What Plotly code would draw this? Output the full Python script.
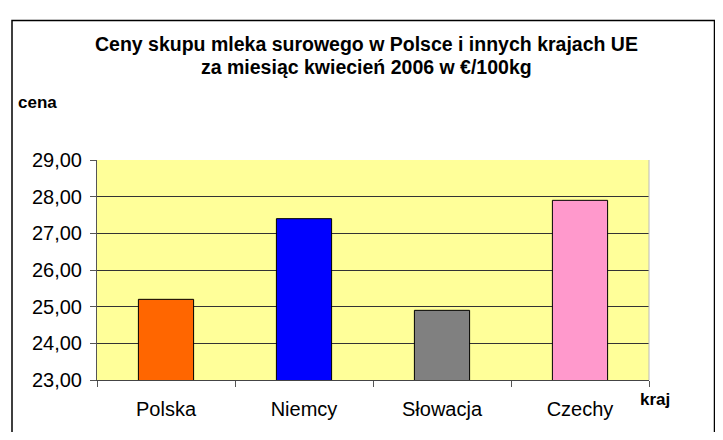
import plotly.graph_objects as go

countries = ["Polska", "Niemcy", "Słowacja", "Czechy"]
prices = [25.2, 27.4, 24.9, 27.9]
bar_colors = ["#FF6600", "#0000FF", "#808080", "#FF99CC"]
y_ticks = [23, 24, 25, 26, 27, 28, 29]

OFF = 8  # default page body margin
W, H = 723 - 2 * OFF, 440 - 2 * OFF
# plot area in page px
L, R, T, B = 97, 649, 160, 395

def px(x):
    return (x - L) / (R - L)

def py(y):
    return (B - y) / (B - T)

fig = go.Figure(go.Bar(
    x=countries, y=prices,
    marker=dict(color=bar_colors, line=dict(color="black", width=1)),
    width=0.4,
))

font = "Liberation Sans, Arial, sans-serif"
fig.update_layout(
    width=W, height=H,
    margin=dict(l=L - OFF, r=W - (R - OFF), t=T - OFF, b=H - (B - OFF), pad=0),
    paper_bgcolor="white",
    plot_bgcolor="#FFFF99",
    separators=", ",
    showlegend=False,
    font=dict(family=font, color="black", size=20),
    xaxis=dict(
        type="category", tickson="boundaries", ticks="outside", ticklen=6,
        tickcolor="#555", showline=True, linecolor="#444", linewidth=1,
        showgrid=False, tickfont=dict(size=20), ticklabelstandoff=11,
    ),
    yaxis=dict(
        range=[23, 29], tickvals=y_ticks, tickformat=".2f",
        ticks="outside", ticklen=6, tickcolor="#555",
        showline=True, linecolor="#555", linewidth=1,
        showgrid=True, gridcolor="#333", gridwidth=1,
        zeroline=False, tickfont=dict(size=20), ticklabelstandoff=4,
    ),
    shapes=[
        dict(type="rect", xref="paper", yref="paper",
             x0=px(12), x1=px(714.5), y0=py(470), y1=py(11),
             line=dict(color="black", width=1.5), fillcolor="rgba(0,0,0,0)",
             layer="above"),
        dict(type="line", xref="paper", yref="paper",
             x0=1, x1=1, y0=0, y1=1, line=dict(color="#bbb", width=1)),
    ],
    annotations=[
        dict(text="<b>Ceny skupu mleka surowego w Polsce i innych krajach UE</b>",
             xref="paper", yref="paper", x=px(366), y=py(36),
             showarrow=False, xanchor="center", yanchor="middle",
             font=dict(size=19.5)),
        dict(text="<b>za miesiąc kwiecień 2006 w €/100kg</b>",
             xref="paper", yref="paper", x=px(366), y=py(61),
             showarrow=False, xanchor="center", yanchor="middle",
             font=dict(size=19.5)),
        dict(text="<b>cena</b>", xref="paper", yref="paper",
             x=px(16), y=py(99), showarrow=False,
             xanchor="left", yanchor="middle", font=dict(size=17)),
        dict(text="<b>kraj</b>", xref="paper", yref="paper",
             x=px(638), y=py(416), showarrow=False,
             xanchor="left", yanchor="middle", font=dict(size=17)),
    ],
)

fig.write_html("out.html")
